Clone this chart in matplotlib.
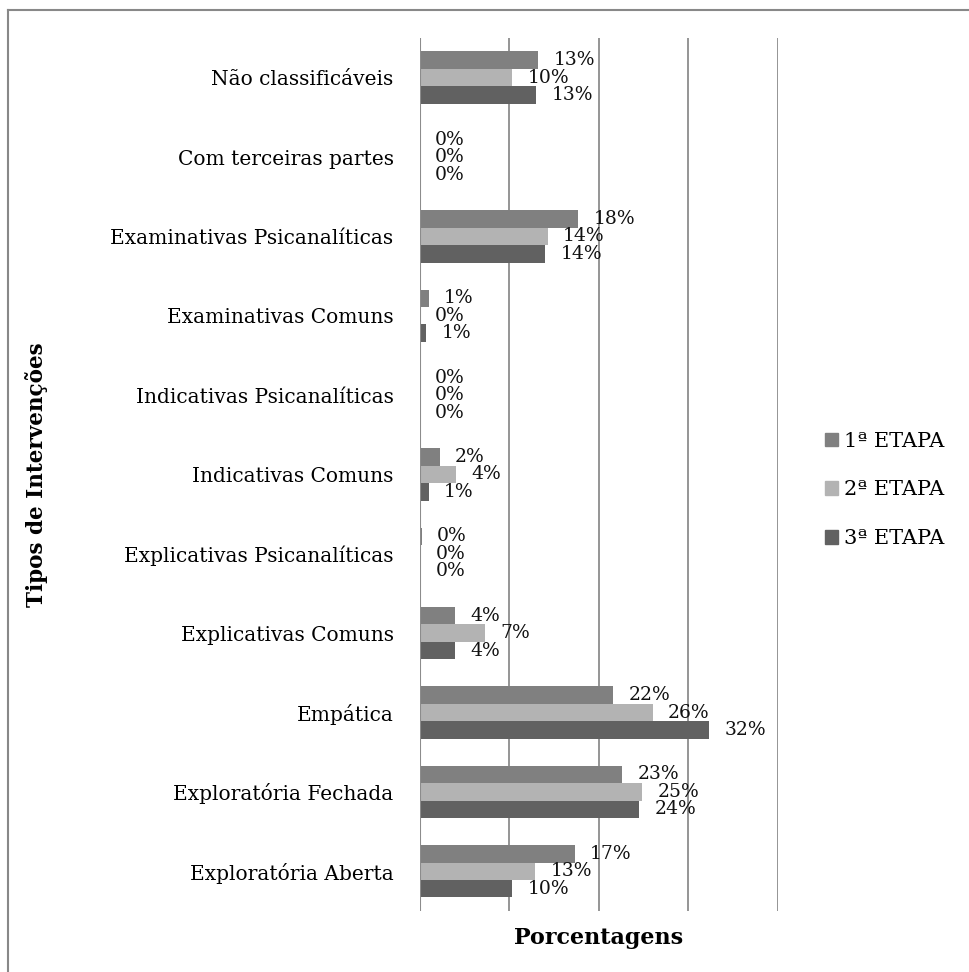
import matplotlib
matplotlib.use("Agg")
import matplotlib.pyplot as plt
import numpy as np
from matplotlib.lines import Line2D

# categories listed bottom -> top as they appear on the axis
categories = [
    "Exploratória Aberta",
    "Exploratória Fechada",
    "Empática",
    "Explicativas Comuns",
    "Explicativas Psicanalíticas",
    "Indicativas Comuns",
    "Indicativas Psicanalíticas",
    "Examinativas Comuns",
    "Examinativas Psicanalíticas",
    "Com terceiras partes",
    "Não classificáveis",
]
series_names = ["1ª ETAPA", "2ª ETAPA", "3ª ETAPA"]
etapa1 = [17.3, 22.6, 21.6, 3.9, 0.2, 2.2, 0.0, 1.0, 17.7, 0.0, 13.2]
etapa2 = [12.9, 24.8, 26.0, 7.3, 0.1, 4.0, 0.0, 0.0, 14.3, 0.0, 10.3]
etapa3 = [10.3, 24.5, 32.3, 3.9, 0.1, 1.0, 0.0, 0.7, 14.0, 0.0, 13.0]
colors = ["#808080", "#b3b3b3", "#616161"]

font = "DejaVu Serif"
plt.rcParams['font.family'] = [font]

fig = plt.figure(figsize=(9.69, 9.72), dpi=100)
ax = fig.add_axes([0.4334, 0.0628, 0.8029 - 0.4334, 0.9609 - 0.0628])

y = np.arange(len(categories))
h = 0.22
offsets = [h, 0, -h]
for vals, off, col, name in zip([etapa1, etapa2, etapa3], offsets, colors, series_names):
    bars = ax.barh(y + off, vals, height=h, color=col, label=name, zorder=3)
    for b, v in zip(bars, vals):
        ax.annotate(f"{v:.0f}%", (b.get_width(), b.get_y() + h / 2),
                    xytext=(11, 0), textcoords="offset points",
                    ha="left", va="center", fontsize=13.5, color="#111111")

ax.set_xlim(0, 40)
ax.set_ylim(-0.5, len(categories) - 0.5)
ax.set_xticks([0, 10, 20, 30, 40])
ax.set_xticklabels([])
ax.tick_params(axis="x", length=0)
ax.grid(axis="x", color="#8c8c8c", linewidth=1.3, zorder=0)
ax.set_yticks(y)
ax.set_yticklabels(categories, fontsize=14.5)
ax.tick_params(axis="y", length=0, pad=19)
for s in ax.spines.values():
    s.set_visible(False)
ax.axvline(0, color="#8c8c8c", linewidth=1.5, zorder=4)

ax.set_xlabel("Porcentagens", fontsize=16, fontweight="bold", labelpad=8)
fig.text(0.038, 0.512, "Tipos de Intervenções", rotation=90, fontsize=15.5,
         fontweight="bold", ha="center", va="center")

handles = [plt.Rectangle((0, 0), 1, 1, color=c) for c in colors]
fig.legend(handles, series_names, loc="center left", bbox_to_anchor=(0.851, 0.496),
           frameon=False, fontsize=15, handlelength=0.65, handleheight=0.65,
           handletextpad=0.3, labelspacing=1.42, borderaxespad=0, borderpad=0)

# outer chart border (only left/top edges visible in the frame)
fig.add_artist(Line2D([8 / 969, 8 / 969], [0, 1 - 10 / 972], color="#888888", linewidth=1.5))
fig.add_artist(Line2D([8 / 969, 1], [1 - 10 / 972, 1 - 10 / 972], color="#888888", linewidth=1.5))

fig.savefig("out.png", dpi=100)
